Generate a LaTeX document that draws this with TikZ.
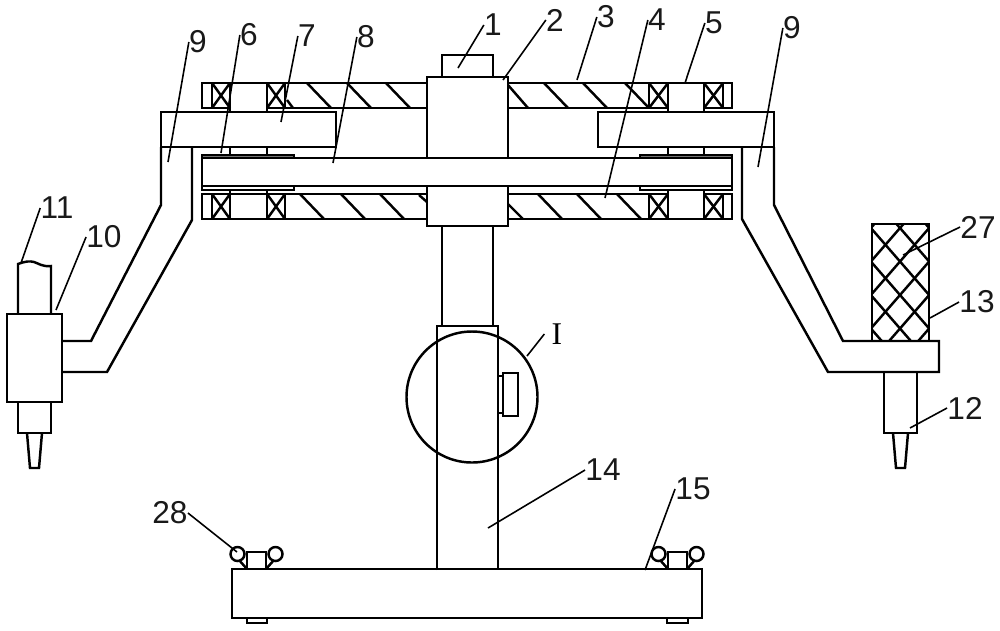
\documentclass[tikz,border=0pt]{standalone}
\usepackage{fontspec}
\setmainfont{Liberation Sans}
\newfontfamily\romanlabel{Liberation Serif}
\begin{document}
\begin{tikzpicture}[x=0.02cm, y=-0.02cm, line join=miter]
    % Define styles for parts and labels
    \tikzstyle{part} = [line width=1.4pt, draw=black]
    \tikzstyle{leader} = [line width=0.9pt, draw=black]
    \tikzstyle{partno} = [inner sep=0pt, text=black!90, font=\fontsize{18}{20}\selectfont]

    \useasboundingbox (0, 0) rectangle (1000, 630);

    % upper disc
    \draw [part] (427, 83) -- (202, 83) -- (202, 108) -- (230, 108);
    \draw [part] (267, 108) -- (427, 108);
    \draw [part] (508, 83) -- (732, 83) -- (732, 108) -- (704, 108);
    \draw [part] (668, 108) -- (508, 108);

    % lower disc
    \draw [part] (427, 194) -- (202, 194) -- (202, 219) -- (427, 219);
    \draw [part] (230, 194) -- (230, 190);
    \draw [part] (267, 194) -- (267, 190);
    \draw [part] (508, 194) -- (668, 194);
    \draw [part] (704, 194) -- (732, 194) -- (732, 219) -- (508, 219);
    \draw [part] (668, 194) -- (668, 190);
    \draw [part] (704, 194) -- (704, 190);

    % bearings
    \foreach \xa/\xb in {212/230, 267/285, 649/668, 704/723} {
        \foreach \ya/\yb in {83/108, 194/219} {
            \draw [part] (\xa, \ya) rectangle (\xb, \yb);
            \draw [part] (\xa, \ya) -- (\xb, \yb);
            \draw [part] (\xb, \ya) -- (\xa, \yb);
        }
    }

    % hatching of the discs
    \foreach \xa in {307, 347, 386, 544, 583, 625} {
        \draw [part] (\xa, 83) -- ++(24, 25);
    }
    \foreach \xa in {300, 341, 380, 538, 577, 617} {
        \draw [part] (\xa, 194) -- ++(24, 25);
    }
    \draw [part] (287, 100) -- (293, 108);
    \draw [part] (508, 85) -- (528, 108);
    \draw [part] (419, 195) -- (427, 202);
    \draw [part] (508, 204) -- (523, 219);

    % hub and column
    \draw [part] (442, 77) -- (442, 55) -- (493, 55) -- (493, 77);
    \draw [part] (427, 158) -- (427, 77) -- (508, 77) -- (508, 158);
    \draw [part] (427, 186) -- (427, 226) -- (508, 226) -- (508, 186);
    \draw [part] (442, 226) -- (442, 326);
    \draw [part] (493, 226) -- (493, 326);
    \draw [part] (437, 570) -- (437, 326) -- (498, 326) -- (498, 570);
    \draw [part] (498, 376) -- (503, 376);
    \draw [part] (498, 413) -- (503, 413);
    \draw [part] (503, 373) rectangle (518, 416);
    \draw [part] (472, 397) circle (65.5);

    % plates
    \draw [part] (161, 112) rectangle (336, 147);
    \draw [part] (598, 112) rectangle (774, 147);

    % shafts
    \foreach \xa in {230, 267, 668, 704} {
        \draw [part] (\xa, 108) -- (\xa, 112);
        \draw [part] (\xa, 147) -- (\xa, 155);
    }

    % belt and wheels
    \draw [part] (202, 158) rectangle (732, 186);
    \draw [part, fill=black!55] (202, 155) rectangle (294, 158);
    \draw [part] (202, 186) rectangle (294, 190);
    \draw [part, fill=black!55] (640, 155) rectangle (732, 158);
    \draw [part] (640, 186) rectangle (732, 190);

    % left arm and tool
    \draw [part] (161, 147) -- (161, 205) -- (91, 341) -- (62, 341);
    \draw [part] (192, 147) -- (192, 220) -- (107, 372) -- (62, 372);
    \draw [part] (7, 314) rectangle (62, 402);
    \draw [part] (18, 314) -- (18, 264) .. controls (26, 261) and (30, 261) .. (34, 262) .. controls (38, 263) and (42, 267) .. (51, 266) -- (51, 314);
    \draw [part] (18, 402) -- (18, 433) -- (51, 433) -- (51, 402);
    \draw [part] (27, 433) -- (30, 468) -- (39, 468) -- (42, 433);

    % right arm and tool
    \draw [part] (774, 147) -- (774, 205) -- (843, 341) -- (939, 341) -- (939, 372) -- (828, 372) -- (742, 219) -- (742, 147);
    \draw [part] (884, 372) -- (884, 433) -- (917, 433) -- (917, 372);
    \draw [part] (893, 433) -- (896, 468) -- (905, 468) -- (908, 433);

    % knob
    \draw [part] (872, 341) -- (872, 224) -- (929, 224) -- (929, 341);
    \begin{scope}
        \clip (872, 224) rectangle (929, 341);
        \foreach \k in {-3, ..., 6} {
            \draw [part] (860, 228 + 33.5 * \k - 46) -- (940, 228 + 33.5 * \k + 46);
            \draw [part] (860, 228 + 33.5 * \k + 46) -- (940, 228 + 33.5 * \k - 46);
        }
    \end{scope}

    % base
    \draw [part] (232, 569) rectangle (702, 618);
    \draw [part] (247, 618) rectangle (267, 623);
    \draw [part] (667, 618) rectangle (688, 623);

    % wing nuts
    \foreach \xa in {247, 668} {
        \draw [part] (\xa, 569) -- (\xa, 552) -- (\xa + 19, 552) -- (\xa + 19, 569);
        \draw [part] (\xa - 9.5, 554) circle (7);
        \draw [part] (\xa + 28.5, 554) circle (7);
        \draw [part] (\xa, 569) -- (\xa - 8, 560);
        \draw [part] (\xa + 19, 569) -- (\xa + 27, 560);
    }

    % labels
    \node (n1) [partno] at (493, 25) {1};
    \node (n2) [partno] at (555, 20) {2};
    \node (n3) [partno] at (606, 17) {3};
    \node (n4) [partno] at (657, 20) {4};
    \node (n5) [partno] at (714, 23) {5};
    \node (n6) [partno] at (249, 35) {6};
    \node (n7) [partno] at (307, 36) {7};
    \node (n8) [partno] at (366, 37) {8};
    \node (n9l) [partno] at (198, 42) {9};
    \node (n9r) [partno] at (792, 28) {9};
    \node (n10) [partno] at (104, 237) {10};
    \node (n11) [partno] at (57, 208) {11};
    \node (n12) [partno] at (965, 408) {12};
    \node (n13) [partno] at (977, 302) {13};
    \node (n14) [partno] at (603, 470) {14};
    \node (n15) [partno] at (693, 489) {15};
    \node (n27) [partno] at (978, 227) {27};
    \node (n28) [partno] at (170, 513) {28};
    \node (nI) [inner sep=0pt, font=\romanlabel\fontsize{18}{20}\selectfont] at (557, 334) {I};

    % leader ends
    \coordinate (tip1) at (458, 68);
    \coordinate (tip2) at (503, 80);
    \coordinate (tip3) at (577, 80);
    \coordinate (tip4) at (605, 198);
    \coordinate (tip5) at (685, 83);
    \coordinate (tip6) at (221, 153);
    \coordinate (tip7) at (281, 122);
    \coordinate (tip8) at (333, 163);
    \coordinate (tip9l) at (168, 162);
    \coordinate (tip9r) at (758, 167);
    \coordinate (tip10) at (56, 310);
    \coordinate (tip11) at (21, 263);
    \coordinate (tip12) at (910, 428);
    \coordinate (tip13) at (930, 318);
    \coordinate (tip14) at (488, 528);
    \coordinate (tip15) at (645, 570);
    \coordinate (tip27) at (903, 255);
    \coordinate (tip28) at (237, 552);
    \coordinate (tipI) at (527, 356);

    % leaders
    \draw [leader] (n1.west) -- (tip1);
    \draw [leader] (n2.west) -- (tip2);
    \draw [leader] (n3.west) -- (tip3);
    \draw [leader] (n4.west) -- (tip4);
    \draw [leader] (n5.west) -- (tip5);
    \draw [leader] (n6.west) -- (tip6);
    \draw [leader] (n7.west) -- (tip7);
    \draw [leader] (n8.west) -- (tip8);
    \draw [leader] (n9l.west) -- (tip9l);
    \draw [leader] (n9r.west) -- (tip9r);
    \draw [leader] (n10.west) -- (tip10);
    \draw [leader] (n11.west) -- (tip11);
    \draw [leader] (n12.west) -- (tip12);
    \draw [leader] (n13.west) -- (tip13);
    \draw [leader] (n14.west) -- (tip14);
    \draw [leader] (n15.west) -- (tip15);
    \draw [leader] (n27.west) -- (tip27);
    \draw [leader] (n28.east) -- (tip28);
    \draw [leader] ([xshift=-4pt]nI.west) -- (tipI);
\end{tikzpicture}
\end{document}
